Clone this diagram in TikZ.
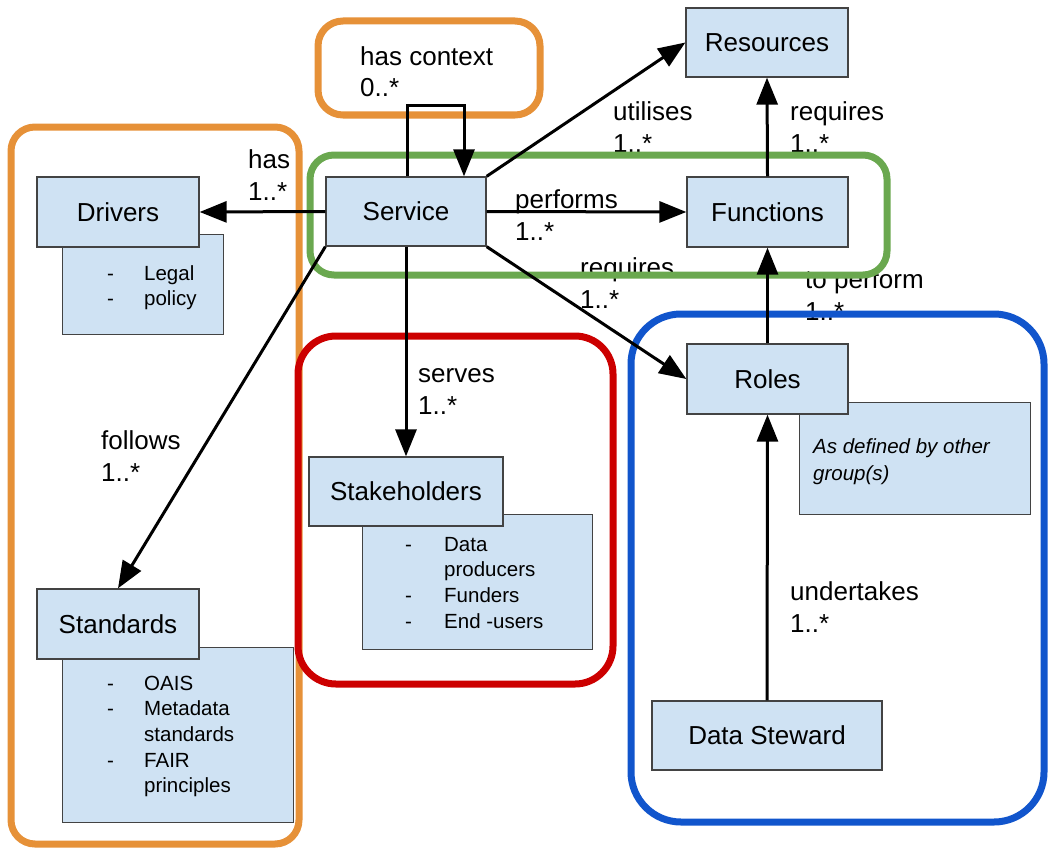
\documentclass[tikz,border=0pt]{standalone}
\usepackage{fontspec}
\setmainfont{Liberation Sans}
\usetikzlibrary{arrows.meta}
\definecolor{boxfill}{HTML}{CFE2F3}
\definecolor{boxline}{HTML}{434343}
\definecolor{gorange}{HTML}{E69138}
\definecolor{ggreen}{HTML}{6AA84F}
\definecolor{gred}{HTML}{CC0000}
\definecolor{gblue}{HTML}{1155CC}
\tikzset{
  entity/.style={draw=boxline, fill=boxfill, line width=1.3pt, inner sep=0pt, font=\fontsize{26}{32}\selectfont},
  notebox/.style={draw=boxline, fill=boxfill, line width=1.3pt, inner sep=0pt, anchor=north west},
  notetext/.style={inner sep=0pt, anchor=base west, font=\fontsize{20.5}{25.7}\selectfont},
  lbl/.style={inner sep=0pt, anchor=base west, align=left, font=\fontsize{26}{32}\selectfont},
  conn/.style={line width=3pt, -{Triangle[length=27pt,width=21pt]}},
  grpframe/.style={line width=7pt, rounded corners=#1},
}
\begin{document}
\begin{tikzpicture}[x=1pt,y=-1pt]
\useasboundingbox (0,0) rectangle (1048,848);
% notes
\node[notebox, minimum width=161pt, minimum height=100pt] (drvnote) at (62,234) {};
\node[notebox, minimum width=230pt, minimum height=135pt] (stknote) at (362,514) {};
\node[notebox, minimum width=231pt, minimum height=112pt] (rolnote) at (799,402) {};
\node[notebox, minimum width=231pt, minimum height=175pt] (stdnote) at (62,647) {};
\node[notetext] (drvlist) at (107,280) {\begin{tabular}[t]{@{}p{37pt}@{}l@{}}-&Legal\\-&policy\end{tabular}};
\node[notetext] (stklist) at (405,551) {\begin{tabular}[t]{@{}p{39pt}@{}l@{}}-&Data\\&producers\\-&Funders\\-&End -users\end{tabular}};
\node[notetext] (stdlist) at (107,690) {\begin{tabular}[t]{@{}p{37pt}@{}l@{}}-&OAIS\\-&Metadata\\&standards\\-&FAIR\\&principles\end{tabular}};
\node[notetext, align=left, font=\fontsize{20.5}{27}\selectfont\itshape] (rollist) at (813,480) {As defined by other\\group(s)};
% entities
\node[entity, minimum width=162pt, minimum height=69pt] (res) at (767,42.5) {Resources};
\node[entity, minimum width=160pt, minimum height=69pt] (svc) at (406,211.5) {Service};
\node[entity, minimum width=161pt, minimum height=70pt] (fun) at (767.5,212) {Functions};
\node[entity, minimum width=162pt, minimum height=70pt] (drv) at (118,212) {Drivers};
\node[entity, minimum width=161pt, minimum height=70pt] (rol) at (767.5,379) {Roles};
\node[entity, minimum width=194pt, minimum height=69pt] (stk) at (406,491.5) {Stakeholders};
\node[entity, minimum width=162pt, minimum height=70pt] (std) at (118,624) {Standards};
\node[entity, minimum width=230pt, minimum height=69pt] (dst) at (767,735.5) {Data Steward};
% labels (anchored at the baseline of the last line)
\node[lbl] (lhc) at (360,97) {has context\\0..*};
\node[lbl] (lhas) at (248,200) {has\\1..*};
\node[lbl] (lperf) at (515,240) {performs\\1..*};
\node[lbl] (lreqr) at (580,308) {requires\\1..*};
\node[lbl] (lutil) at (613,152) {utilises\\1..*};
\node[lbl] (lreqf) at (790,152) {requires\\1..*};
\node[lbl] (ltop) at (805,320) {to perform\\1..*};
\node[lbl] (lserv) at (418,414) {serves\\1..*};
\node[lbl] (lfoll) at (101,481) {follows\\1..*};
\node[lbl] (lund) at (790,632) {undertakes\\1..*};
% group frames
\draw[grpframe=25pt, draw=gorange] (318,21) rectangle (540,115);
\draw[grpframe=24pt, draw=gorange] (11,127) rectangle (299,844);
\draw[grpframe=24pt, draw=ggreen] (310,155) rectangle (887,275);
\draw[grpframe=38pt, draw=gred] (298,336) rectangle (613,684);
\draw[grpframe=50pt, draw=gblue] (631,314) rectangle (1044,822);
% connectors
\draw[conn] (svc.west) -- (drv.east);
\draw[conn] (svc.east) -- (fun.west);
\draw[conn] (svc.north east) -- (res.west);
\draw[conn] (fun.north) -- (res.south);
\draw[conn] (svc.south east) -- (rol.west);
\draw[conn] (rol.north) -- (fun.south);
\draw[conn] (svc.south) -- (stk.north);
\draw[conn] (svc.south west) -- (std.north);
\draw[conn] (dst.north) -- (rol.south);
\coordinate (loopA) at ([xshift=1pt]svc.north);
\coordinate (loopB) at ([xshift=58pt]svc.north);
\draw[conn] (loopA) -- ++(0,-71) -| (loopB);
\end{tikzpicture}
\end{document}
